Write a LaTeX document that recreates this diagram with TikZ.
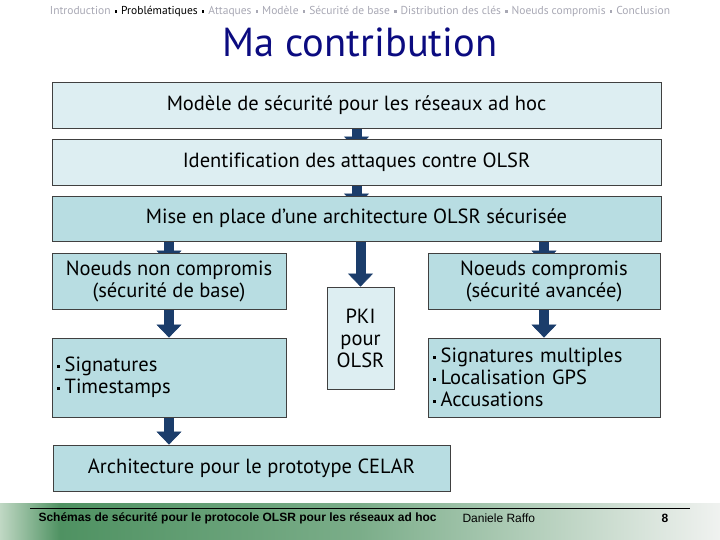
\documentclass[tikz,border=0pt]{standalone}
\usepackage{fontspec}
\setmainfont[Ligatures=NoCommon]{PT Sans}
\newfontfamily\footfont{Liberation Sans}
\usetikzlibrary{arrows.meta,backgrounds,positioning}
\definecolor{boxlight}{HTML}{DDEEF2}
\definecolor{boxdark}{HTML}{B8DDE2}
\definecolor{arrowblue}{HTML}{1B3D6B}
\definecolor{titleblue}{HTML}{0B0B80}
\definecolor{crumbgray}{HTML}{A8A8B4}
\definecolor{footgreen}{HTML}{4F9262}
\definecolor{footpale}{HTML}{C0D8C4}
\definecolor{footfade}{HTML}{F0F2F0}
\newcommand{\blt}{\rule[0.4ex]{3pt}{3pt}\hspace{0.25em}}
\newcommand{\crumbsep}{\hspace{0.35em}\rule[0.4ex]{2.6pt}{2.6pt}\hspace{0.35em}}
\tikzset{
    stagebox/.style={draw=black!75, line width=0.8pt, fill=boxdark, inner sep=0pt,
        font=\fontsize{20.5}{22}\selectfont, align=center},
    lightbox/.style={stagebox, fill=boxlight},
    flowarrow/.style={draw=arrowblue, line width=10pt,
        -{Triangle[width=25pt,length=13pt,line width=0.6pt]}},
    hidden tip/.style={shorten >=-11pt}
}
\begin{document}
\begin{tikzpicture}[x=1pt,y=-1pt]
    \useasboundingbox (0,0) rectangle (720,540);
    % header
    \node[font=\fontsize{11.5}{12}\selectfont, text=crumbgray] (crumbs) at (360,12)
        {Introduction{\color{black}\crumbsep{}Problématiques\crumbsep}Attaques\crumbsep{}Modèle\crumbsep{}Sécurité de base\crumbsep{}Distribution des clés\crumbsep{}Noeuds compromis\crumbsep{}Conclusion};
    \node[font=\fontsize{40.5}{44}\selectfont, text=titleblue] (title) at (360,42) {Ma contribution};
    % footer
    \shade[left color=footpale, right color=footgreen] (0,503) rectangle (60,540);
    \shade[left color=footgreen, right color=footgreen!75] (60,503) rectangle (360,540);
    \shade[left color=footgreen!75, right color=footfade] (360,503) rectangle (720,540);
    \draw[line width=0.8pt] (30,508) -- (690,508);
    \node[anchor=west, font=\footfont\bfseries\fontsize{12}{13}\selectfont] (foottitle) at (35,518)
        {Schémas de sécurité pour le protocole OLSR pour les réseaux ad hoc};
    \node[anchor=west, font=\footfont\fontsize{12}{13}\selectfont] (author) at (459,518) {Daniele Raffo};
    \node[font=\footfont\bfseries\fontsize{12}{13}\selectfont] (pagenum) at (665,518) {8};
    % stages
    \node[lightbox, minimum width=609pt, minimum height=46pt] (model) at (356.5,105)
        {Modèle de sécurité pour les réseaux ad hoc};
    \node[lightbox, minimum width=609pt, minimum height=46pt] (attacks) at (356.5,162)
        {Identification des attaques contre OLSR};
    \node[stagebox, minimum width=609pt, minimum height=45pt] (archi) at (356.5,218.5)
        {Mise en place d’une architecture OLSR sécurisée};
    \node[stagebox, minimum width=234pt, minimum height=56pt] (basic) at (169,281)
        {Noeuds non compromis\\(sécurité de base)};
    \node[lightbox, minimum width=67pt, minimum height=102pt] (pki) at (360.5,338)
        {PKI\\pour\\OLSR};
    \node[stagebox, minimum width=232pt, minimum height=56pt] (advanced) at (544,281)
        {Noeuds compromis\\(sécurité avancée)};
    \node[stagebox, minimum width=234pt, minimum height=79pt, align=left, text width=225pt] (basiclist) at (169,377.5)
        {\blt Signatures\\\blt Timestamps};
    \node[stagebox, minimum width=232pt, minimum height=79pt, align=left, text width=223pt] (advlist) at (544,377.5)
        {\blt Signatures multiples\\\blt Localisation GPS\\\blt Accusations};
    \node[stagebox, minimum width=397pt, minimum height=46pt] (celar) at (251.5,468)
        {Architecture pour le prototype CELAR};
    % arrows under the boxes
    \begin{scope}[on background layer]
        \draw[flowarrow, hidden tip] (model) -- (attacks);
        \draw[flowarrow, hidden tip] (attacks) -- (archi);
        \draw[flowarrow, hidden tip] (archi.south -| basic) -- (basic);
        \draw[flowarrow] (archi.south -| pki) -- (pki);
        \draw[flowarrow, hidden tip] (archi.south -| advanced) -- (advanced);
        \draw[flowarrow] (basic) -- (basiclist);
        \draw[flowarrow] (advanced) -- (advlist);
        \draw[flowarrow] (basiclist) -- (celar.north -| basiclist);
    \end{scope}
\end{tikzpicture}
\end{document}
